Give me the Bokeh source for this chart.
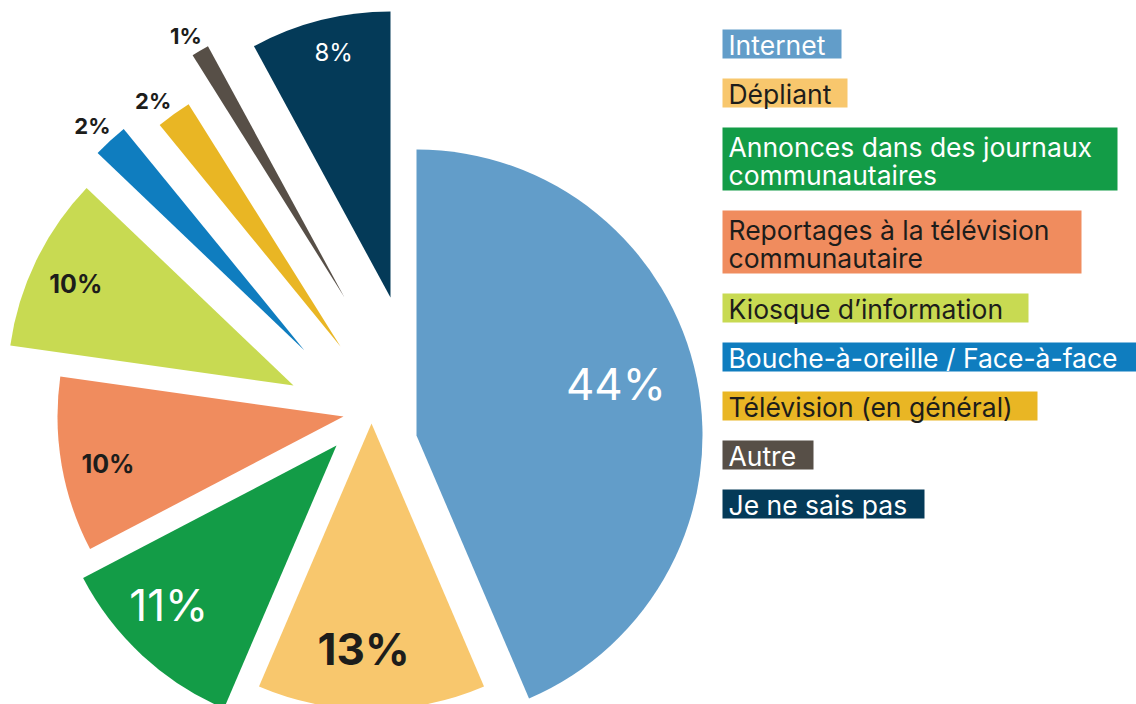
import numpy as np
from bokeh.plotting import figure
from bokeh.models import ColumnDataSource, Range1d
from bokeh.embed import file_html
from bokeh.resources import INLINE
from bokeh.core.properties import value

# ---- data -------------------------------------------------------------
categories = [
    "Internet",
    "Dépliant",
    "Annonces dans des journaux\ncommunautaires",
    "Reportages à la télévision\ncommunautaire",
    "Kiosque d’information",
    "Bouche-à-oreille / Face-à-face",
    "Télévision (en général)",
    "Autre",
    "Je ne sais pas",
]
shares = [44, 13, 11, 10, 10, 2, 2, 1, 8]
colors = ["#629DC9", "#F8C76D", "#139C47", "#F08C5E", "#C8DA52",
          "#0F7DBF", "#E9B624", "#574F47", "#043A58"]

# ---- layout / style ---------------------------------------------------
W, H = 1136, 704
FONT = value("Inter")
DARK = "#1d1d1b"
R = 286                      # slice radius (px)
CENTER = (370, 304)          # nominal pie centre, y measured upward
# each slice is pulled away from the centre by its own amount (px, y up)
explode_dx = [46, 1, -34, -27, -77, -66, -30, -26, 20]
explode_dy = [-35, -23, -45, -16, 15, 50, 54, 103, 103]
# where the percentage sits along the slice bisector (fraction of R)
label_frac = [0.72, 0.79, 0.81, 0.84, 0.84, 1.08, 1.08, 1.07, 0.88]
label_turn = [-2.8, 2.0, 3.6, -1.5, -0.8, -0.6, -1.7, -0.9, 1.2]  # degrees
label_size = ["44px", "44px", "44px", "25px", "25px", "22px", "22px", "22px", "24px"]
label_color = ["white", DARK, "white", DARK, DARK, DARK, DARK, DARK, "white"]
label_style = ["normal", "bold", "normal", "bold", "bold", "bold", "bold", "bold", "normal"]

legend_text_color = ["white", DARK, "white", DARK, DARK, "white", DARK, "white", "white"]
legend_box_right = [841, 847, 1117, 1081, 1028, 1136, 1037, 813, 924]
LEG_LEFT, LEG_TEXT_X, LEG_TOP = 722, 728, 29

# ---- geometry ---------------------------------------------------------
total = float(sum(shares))
ends = np.cumsum(shares) / total * 2 * np.pi        # clockwise from 12 o'clock
starts = np.concatenate([[0.0], ends[:-1]])
mids = (starts + ends) / 2

tip_x = CENTER[0] + np.array(explode_dx)
tip_y = CENTER[1] + np.array(explode_dy)

wedges = ColumnDataSource(dict(
    x=tip_x, y=tip_y,
    start=np.pi / 2 - ends, end=np.pi / 2 - starts,
    color=colors, name=categories, share=shares,
))

lab_ang = mids + np.radians(label_turn)
lab_r = np.array(label_frac) * R
labels = ColumnDataSource(dict(
    x=tip_x + lab_r * np.sin(lab_ang),
    y=tip_y + lab_r * np.cos(lab_ang),
    text=[f"{s}%" for s in shares],
    size=label_size, color=label_color, style=label_style,
))

# legend: coloured boxes with text inside, stacked downward
box_l, box_r, box_t, box_b, box_c = [], [], [], [], []
lt_x, lt_y, lt_text, lt_color = [], [], [], []
top = LEG_TOP
for name, col, tcol, right in zip(categories, colors, legend_text_color, legend_box_right):
    lines = name.split("\n")
    h = 29 if len(lines) == 1 else 63
    box_l.append(LEG_LEFT); box_r.append(right)
    box_t.append(H - top); box_b.append(H - top - h); box_c.append(col)
    first = top + (15 if len(lines) == 1 else 19)
    for k, ln in enumerate(lines):
        lt_x.append(LEG_TEXT_X)
        lt_y.append(H - (first + 28 * k))
        lt_text.append(ln)
        lt_color.append(tcol)
    top += h + 20

boxes = ColumnDataSource(dict(left=box_l, right=box_r, top=box_t, bottom=box_b, color=box_c))
legend_txt = ColumnDataSource(dict(x=lt_x, y=lt_y, text=lt_text, color=lt_color))

# ---- figure -----------------------------------------------------------
p = figure(width=W, height=H, x_range=Range1d(0, W), y_range=Range1d(0, H),
           x_axis_type=None, y_axis_type=None, toolbar_location=None,
           output_backend="svg", min_border=0)
p.grid.visible = False
p.outline_line_color = None
p.background_fill_color = "white"
p.border_fill_color = "white"

p.wedge(x="x", y="y", radius=R, start_angle="start", end_angle="end",
        direction="anticlock", fill_color="color", line_color=None, source=wedges)

p.text(x="x", y="y", text="text", text_color="color", text_font_size="size",
       text_font_style="style", text_font=FONT, text_align="center",
       text_baseline="middle", source=labels)

p.quad(left="left", right="right", top="top", bottom="bottom",
       fill_color="color", line_color=None, source=boxes)
p.text(x="x", y="y", text="text", text_color="color", text_font_size="26.5px",
       text_font=FONT, text_align="left", text_baseline="middle", source=legend_txt)

open("out.html", "w").write(file_html(p, INLINE))
